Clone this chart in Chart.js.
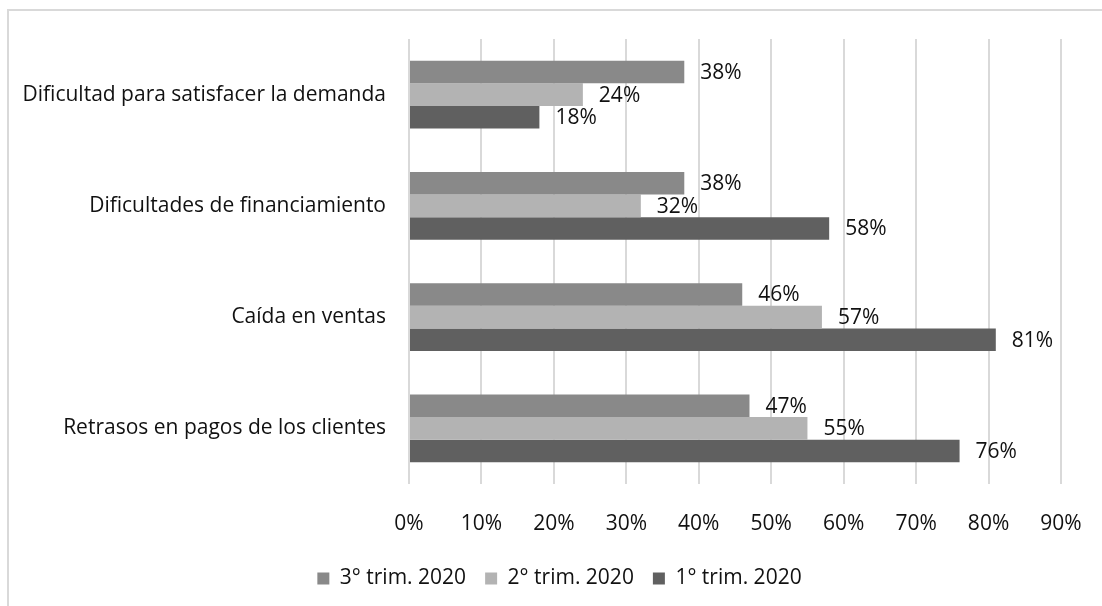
<!DOCTYPE html>
<html>
<head>
<meta charset="utf-8">
<script src="https://cdn.jsdelivr.net/npm/chart.js@4.4.1/dist/chart.umd.min.js"></script>
<style>
  html, body { margin: 0; padding: 0; background: #ffffff; }
  #wrap { width: 1102px; height: 606px; position: relative; }
</style>
</head>
<body>
<div id="wrap"><canvas id="c" width="1102" height="606"></canvas></div>
<script>
const categories = [
  'Dificultad para satisfacer la demanda',
  'Dificultades de financiamiento',
  'Caída en ventas',
  'Retrasos en pagos de los clientes'
];
const seriesNames = ['3° trim. 2020', '2° trim. 2020', '1° trim. 2020'];
const trim3 = [38, 38, 46, 47];
const trim2 = [24, 32, 57, 55];
const trim1 = [18, 58, 81, 76];
const xTicks = [0, 10, 20, 30, 40, 50, 60, 70, 80, 90];

const FONT = '"Open Sans", "Noto Sans", sans-serif';
const FSIZE = 21;
const colors = ['#898989', '#b3b3b3', '#606060'];

const borderPlugin = {
  id: 'outerBorder',
  beforeDraw(chart) {
    const ctx = chart.ctx;
    ctx.save();
    ctx.fillStyle = '#ffffff';
    ctx.fillRect(0, 0, chart.width, chart.height);
    ctx.strokeStyle = '#d9d9d9';
    ctx.lineWidth = 2;
    ctx.strokeRect(8, 10, chart.width + 20, chart.height + 20);
    ctx.restore();
  }
};

// centre the legend on the whole figure rather than on the padded layout box
const legendShift = {
  id: 'legendShift',
  afterLayout(chart) {
    if (chart.legend) { chart.legend.left = 58; chart.legend.right = 1061; }
  }
};

const labelPlugin = {
  id: 'barValueLabels',
  afterDatasetsDraw(chart) {
    const ctx = chart.ctx;
    ctx.save();
    ctx.font = FSIZE + 'px ' + FONT;
    ctx.fillStyle = '#111111';
    ctx.textAlign = 'left';
    ctx.textBaseline = 'middle';
    chart.data.datasets.forEach((ds, i) => {
      const meta = chart.getDatasetMeta(i);
      meta.data.forEach((el, j) => {
        ctx.fillText(ds.data[j] + '%', el.x + 16, el.y + 1);
      });
    });
    ctx.restore();
  }
};

new Chart(document.getElementById('c'), {
  type: 'bar',
  data: {
    labels: categories,
    datasets: [
      { label: seriesNames[0], data: trim3, backgroundColor: colors[0] },
      { label: seriesNames[1], data: trim2, backgroundColor: colors[1] },
      { label: seriesNames[2], data: trim1, backgroundColor: colors[2] }
    ]
  },
  options: {
    indexAxis: 'y',
    responsive: false,
    animation: false,
    devicePixelRatio: 1,
    datasets: { bar: { barPercentage: 1.0, categoryPercentage: 0.61 } },
    layout: { padding: { top: 39, right: 41, left: 0, bottom: 7 } },
    scales: {
      x: {
        min: 0,
        max: 90,
        afterBuildTicks(scale) { scale.ticks = xTicks.map(v => ({ value: v })); },
        afterFit(scale) {
          scale.height = 65;
          scale.paddingLeft = 0;
          scale.paddingRight = 0;
        },
        border: { display: false },
        grid: { color: '#d9d9d9', lineWidth: 2, drawTicks: false },
        ticks: {
          padding: 27,
          color: '#111111',
          font: { family: FONT, size: FSIZE },
          callback: v => v + '%'
        }
      },
      y: {
        afterFit(scale) { scale.width = 409; },
        border: { display: false },
        grid: { display: false },
        ticks: {
          padding: 15,
          color: '#111111',
          font: { family: FONT, size: FSIZE }
        }
      }
    },
    plugins: {
      legend: {
        position: 'bottom',
        labels: {
          boxWidth: 12,
          boxHeight: 12,
          padding: 19,
          color: '#111111',
          font: { family: FONT, size: FSIZE }
        }
      },
      tooltip: { enabled: false }
    }
  },
  plugins: [borderPlugin, legendShift, labelPlugin]
});
</script>
</body>
</html>
